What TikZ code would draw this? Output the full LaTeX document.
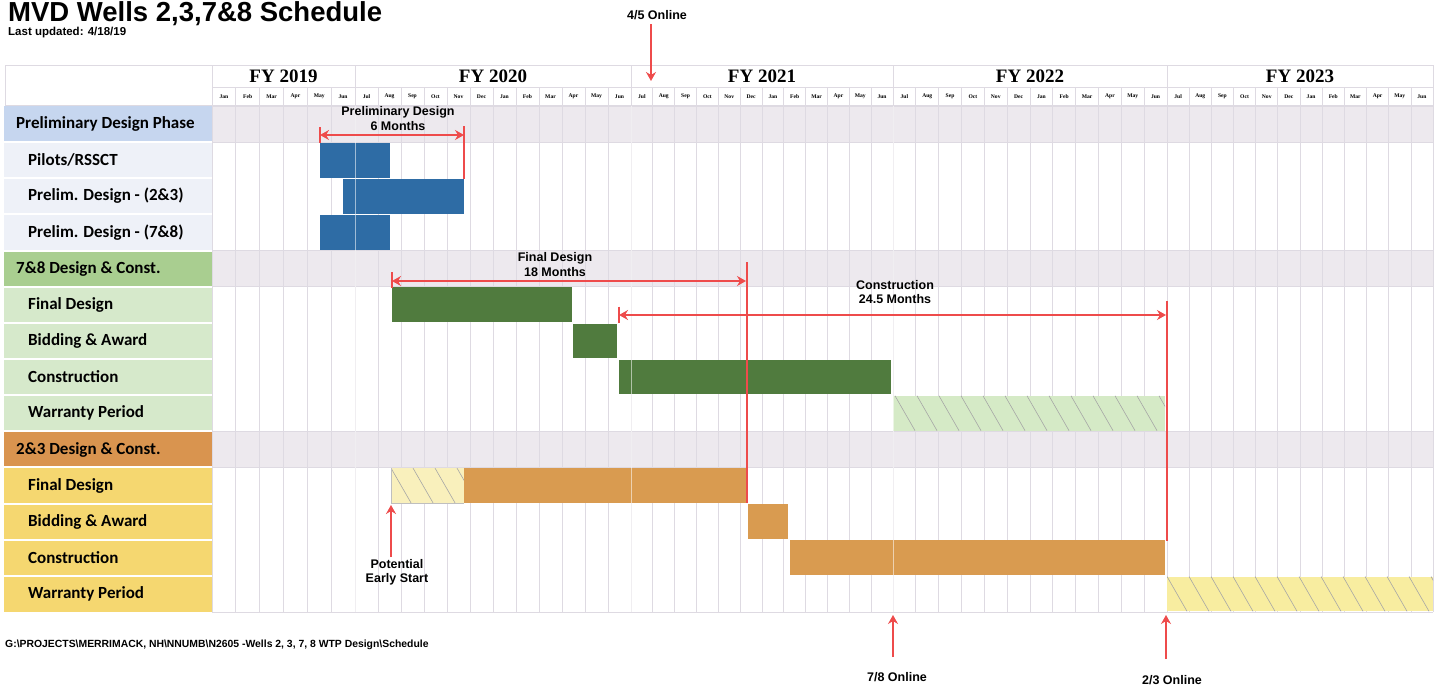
\documentclass[tikz,border=0pt]{standalone}
\usepackage{fontspec}
\setmainfont{Liberation Sans}
\newfontfamily\calfont{Carlito}
\newfontfamily\tmsfont{Liberation Serif}
\usetikzlibrary{arrows.meta}
\definecolor{hdrblue}{HTML}{C6D6EF}
\definecolor{subblue}{HTML}{EEF1F8}
\definecolor{hdrgreen}{HTML}{A9CE90}
\definecolor{subgreen}{HTML}{D6E9CB}
\definecolor{hdrorange}{HTML}{D9944F}
\definecolor{subyellow}{HTML}{F5D770}
\definecolor{bandc}{HTML}{EDE9EE}
\definecolor{gridc}{HTML}{DEDAE2}
\definecolor{barblue}{HTML}{2E6CA5}
\definecolor{bargreen}{HTML}{507B3E}
\definecolor{barorange}{HTML}{D99B50}
\definecolor{hatchgreen}{HTML}{D5EAC6}
\definecolor{hatchyellowA}{HTML}{F9F0BC}
\definecolor{hatchyellowB}{HTML}{F8EDA0}
\definecolor{redc}{HTML}{EE4B4B}
\begin{document}
\begin{tikzpicture}[x=1pt,y=-1pt,
  lblhead/.style={anchor=west, inner sep=0, font=\calfont\bfseries\fontsize{17}{19}\selectfont},
  lblsub/.style={anchor=west, inner sep=0, font=\calfont\bfseries\fontsize{17}{19}\selectfont},
  fyl/.style={inner sep=0, font=\tmsfont\bfseries\fontsize{19}{20}\selectfont},
  monl/.style={inner sep=0, font=\tmsfont\bfseries\fontsize{5.6}{6}\selectfont},
  note/.style={inner sep=0, align=center, font=\bfseries\fontsize{12.5}{14.5}\selectfont},
  gridl/.style={draw=gridc, line width=0.7pt},
  rline/.style={draw=redc, line width=2.2pt},
  rarrow/.style={draw=redc, line width=2.2pt, -{Stealth[length=9pt,width=10pt,inset=3pt]}},
  rboth/.style={draw=redc, line width=2.2pt, {Stealth[length=9pt,width=10pt,inset=3pt]}-{Stealth[length=9pt,width=10pt,inset=3pt]}},
  hatchl/.style={draw=black!35, line width=0.6pt},
  cellsep/.style={draw=white, line width=2pt}
]
\useasboundingbox (0,0) rectangle (1441,688);
\fill[white] (0,0) rectangle (1441,688);

% ---------- title ----------
\node[anchor=base west, inner sep=0, font=\bfseries\fontsize{27.5}{30}\selectfont] (title) at (8,21) {MVD Wells 2,3,7\&8 Schedule};
\node[anchor=base west, inner sep=0, font=\bfseries\fontsize{11.5}{13}\selectfont] (updated) at (8,35) {Last updated: 4/18/19};

% ---------- chart bands (group rows) ----------
\fill[bandc] (212,106) rectangle (1433,142.1);
\fill[bandc] (212,250.6) rectangle (1433,286.7);
\fill[bandc] (212,431.3) rectangle (1433,467.4);
\foreach \ya/\yb in {106/142.1, 250.6/286.7, 431.3/467.4}{
  \draw[gridl] (212,\ya) -- (1433,\ya);
  \draw[gridl] (212,\yb) -- (1433,\yb);
}

% ---------- header table ----------
\draw[gridl] (5,65) rectangle (1433,105);
\draw[gridl] (212,87) -- (1433,87);
\draw[gridl] (212,65) -- (212,612);
\draw[gridl] (1433,65) -- (1433,612);
\draw[gridl] (212,612) -- (1433,612);
\foreach \xb in {355,631,893,1167}{\draw[gridl] (\xb,65) -- (\xb,612);}
\foreach \s/\w/\n in {212/23.833/5, 355/23/11, 631/21.833/11, 893/22.833/11, 1167/22.167/11}{
  \foreach \k in {1,...,\n}{\draw[gridl] ({\s+\k*\w},87) -- ({\s+\k*\w},612);}
}

\node[fyl] (fy19) at (283.5,76) {FY 2019};
\node[fyl] (fy20) at (493,76) {FY 2020};
\node[fyl] (fy21) at (762,76) {FY 2021};
\node[fyl] (fy22) at (1030,76) {FY 2022};
\node[fyl] (fy23) at (1300,76) {FY 2023};

\foreach \m [count=\k from 0] in {Jan,Feb,Mar,Apr,May,Jun}{
  \node[monl] (ma\k) at ({212+(\k+0.5)*23.833},96.5) {\m};}
\foreach \m [count=\k from 0] in {Jul,Aug,Sep,Oct,Nov,Dec,Jan,Feb,Mar,Apr,May,Jun}{
  \node[monl] (mb\k) at ({355+(\k+0.5)*23},96.5) {\m};
  \node[monl] (mc\k) at ({631+(\k+0.5)*21.833},96.5) {\m};
  \node[monl] (md\k) at ({893+(\k+0.5)*22.833},96.5) {\m};
  \node[monl] (me\k) at ({1167+(\k+0.5)*22.167},96.5) {\m};}

% ---------- label column ----------
\fill[hdrblue]   (4,106)   rectangle (212,142.1);
\fill[subblue]   (4,142.1) rectangle (212,250.6);
\fill[hdrgreen]  (4,250.6) rectangle (212,286.7);
\fill[subgreen]  (4,286.7) rectangle (212,431.3);
\fill[hdrorange] (4,431.3) rectangle (212,467.4);
\fill[subyellow] (4,467.4) rectangle (212,612);
\foreach \yy in {142.1,178.3,214.4,250.6,286.7,322.8,359.0,395.1,431.3,467.4,503.5,539.7,575.8}{
  \draw[cellsep] (4,\yy) -- (212,\yy);}

\node[lblhead] (l0) at (16,124)  {Preliminary Design Phase};
\node[lblsub]  (l1) at (28,160)  {Pilots/RSSCT};
\node[lblsub]  (l2) at (28,196)  {Prelim. Design - (2\&3)};
\node[lblsub]  (l3) at (28,232.5){Prelim. Design - (7\&8)};
\node[lblhead] (l4) at (16,268.5){7\&8 Design \& Const.};
\node[lblsub]  (l5) at (28,305)  {Final Design};
\node[lblsub]  (l6) at (28,341)  {Bidding \& Award};
\node[lblsub]  (l7) at (28,377)  {Construction};
\node[lblsub]  (l8) at (28,413)  {Warranty Period};
\node[lblhead] (l9) at (16,449.5){2\&3 Design \& Const.};
\node[lblsub]  (l10) at (28,485.5){Final Design};
\node[lblsub]  (l11) at (28,521.5){Bidding \& Award};
\node[lblsub]  (l12) at (28,558){Construction};
\node[lblsub]  (l13) at (28,594){Warranty Period};

% ---------- bars ----------
\fill[barblue] (320,142.8) rectangle (390,177.6);
\fill[barblue] (343,178.9) rectangle (464,213.7);
\fill[barblue] (320,215.0) rectangle (390,249.9);

\fill[bargreen] (392,287.4) rectangle (572,322.1);
\fill[bargreen] (573,323.5) rectangle (617,358.3);
\fill[bargreen] (619,359.6) rectangle (891,394.4);

\begin{scope}
  \clip (893,395.8) rectangle (1165,430.6);
  \fill[hatchgreen] (893,395.8) rectangle (1165,430.6);
  \foreach \k in {0,...,13}{\draw[hatchl] ({873+\k*22},395.8) -- ({893+\k*22},430.6);}
\end{scope}

\begin{scope}
  \clip (391,468.1) rectangle (464,502.8);
  \fill[hatchyellowA] (391,468.1) rectangle (464,502.8);
  \foreach \k in {0,...,4}{\draw[hatchl] ({391+\k*22},468.1) -- ({411+\k*22},502.8);}
\end{scope}
\draw[black!25, line width=0.5pt] (391,468.1) -- (391,502.8) -- (464,502.8);
\fill[barorange] (464,468.1) rectangle (746,502.8);
\fill[barorange] (748,504.2) rectangle (788,539.0);
\fill[barorange] (790,540.4) rectangle (1165,575.1);

\begin{scope}
  \clip (1167,576.5) rectangle (1433,611.3);
  \fill[hatchyellowB] (1167,576.5) rectangle (1433,611.3);
  \foreach \k in {0,...,13}{\draw[hatchl] ({1167+\k*22},576.5) -- ({1187+\k*22},611.3);}
\end{scope}

% FY boundary lines showing through bars
\foreach \xb in {355,631,893}{\draw[white, opacity=0.55, line width=1pt] (\xb,106) -- (\xb,612);}

% ---------- red annotations ----------
\coordinate (pdL) at (320,135);
\coordinate (pdR) at (464,135);
\coordinate (pdT) at (464,126);
\coordinate (pdB) at (464,178.5);
\coordinate (pdTa) at (320,127);
\coordinate (pdTb) at (320,143);
\draw[rboth] (pdL) -- (pdR);
\draw[rline] (pdT) -- (pdB);
\draw[rline] (pdTa) -- (pdTb);
\node[note] (pdtxt) at (398,118.5) {Preliminary Design\\6 Months};

\coordinate (fdL) at (392,281);
\coordinate (fdR) at (746,281);
\coordinate (fdTa) at (392,272);
\coordinate (fdTb) at (392,288);
\coordinate (fdVT) at (747,262);
\coordinate (fdVB) at (747,503);
\draw[rboth] (fdL) -- (fdR);
\draw[rline] (fdTa) -- (fdTb);
\draw[rline] (fdVT) -- (fdVB);
\node[note] (fdtxt) at (555,264.5) {Final Design\\18 Months};

\coordinate (coL) at (619,315);
\coordinate (coR) at (1166,315);
\coordinate (coTa) at (619,306.5);
\coordinate (coTb) at (619,323);
\coordinate (coVT) at (1167,301);
\coordinate (coVB) at (1167,541);
\draw[rboth] (coL) -- (coR);
\draw[rline] (coTa) -- (coTb);
\draw[rline] (coVT) -- (coVB);
\node[note] (cotxt) at (895,292) {Construction\\24.5 Months};

\node[note] (on45) at (657,15) {4/5 Online};
\coordinate (on45a) at (651,24);
\coordinate (on45b) at (651,81);
\draw[rarrow] (on45a) -- (on45b);

\node[note] (early) at (397,572.5) {Potential\\Early Start};
\coordinate (esa) at (391,557);
\coordinate (esb) at (391,505);
\draw[rarrow] (esa) -- (esb);

\node[note] (on78) at (897,677) {7/8 Online};
\coordinate (on78a) at (893,657);
\coordinate (on78b) at (893,615);
\draw[rarrow] (on78a) -- (on78b);

\node[note] (on23) at (1172,680) {2/3 Online};
\coordinate (on23a) at (1166,659);
\coordinate (on23b) at (1166,615);
\draw[rarrow] (on23a) -- (on23b);

% ---------- footer path ----------
\node[anchor=west, inner sep=0, font=\bfseries\fontsize{10.4}{11}\selectfont] (path) at (5,645)
  {G:\textbackslash PROJECTS\textbackslash MERRIMACK, NH\textbackslash NNUMB\textbackslash N2605 -Wells 2, 3, 7, 8 WTP Design\textbackslash Schedule};
\end{tikzpicture}
\end{document}
